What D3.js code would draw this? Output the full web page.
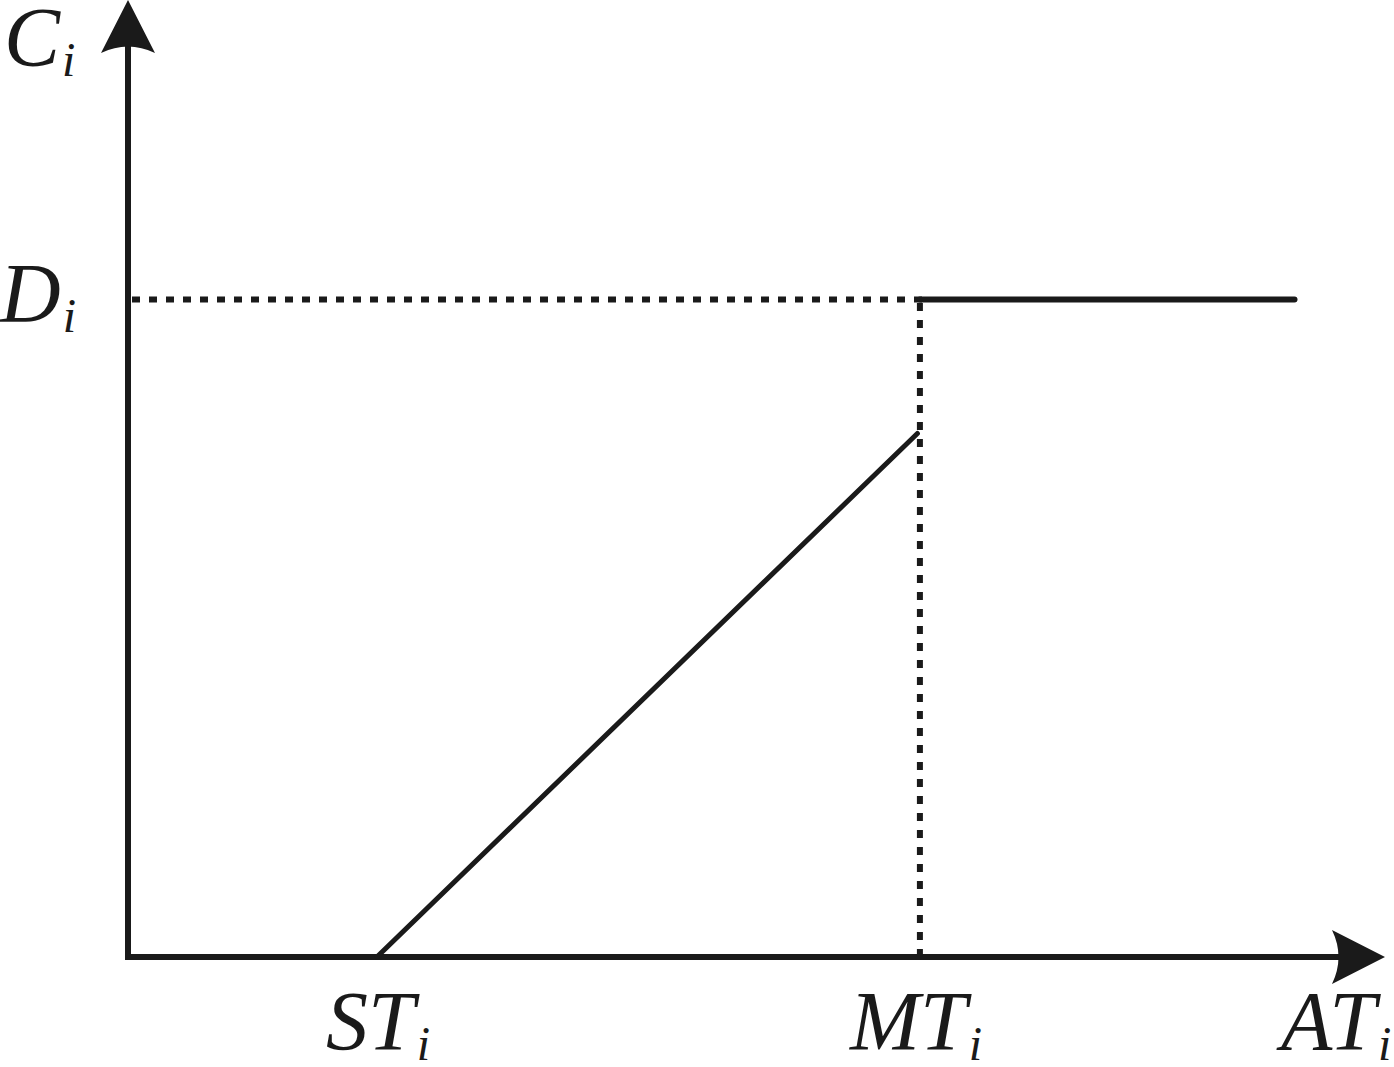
<!DOCTYPE html>
<html><head><meta charset="utf-8">
<script src="https://cdn.jsdelivr.net/npm/d3@7"></script>
<style>html,body{margin:0;padding:0;background:#fff;}svg{display:block;}
.lbl{font-family:"Liberation Serif", serif; font-style:italic;}</style>
</head><body>
<script>
// Data (abstract units)
const xLabels = ["ST", "MT", "AT"];
const yLabels = ["C", "D"];
const rampX = [1.98, 6.28];
const rampY = [0, 5.47];
const plateauX = [6.30, 9.28];
const plateauY = [6.87, 6.87];
const dashedH = [[0, 6.87],[6.30, 6.87]];
const dashedV = [[6.30, 0],[6.30, 6.87]];

const W = 1394, H = 1067;
const x = d3.scaleLinear().domain([0, 10]).range([128, 1385]);
const y = d3.scaleLinear().domain([0, 10]).range([957, 0]);
const ink = "#1a1a1a";

const svg = d3.select("body").append("svg").attr("width", W).attr("height", H);
const line = d3.line().x(d => x(d[0])).y(d => y(d[1]));

// axes
svg.append("line").attr("x1", x(0)).attr("y1", y(0)).attr("x2", x(0)).attr("y2", y(10)+40)
  .attr("stroke", ink).attr("stroke-width", 6);
svg.append("line").attr("x1", x(0)-3).attr("y1", y(0)).attr("x2", x(10)-40).attr("y2", y(0))
  .attr("stroke", ink).attr("stroke-width", 6);

// arrowheads
const ax = x(0), ay = y(10);
svg.append("path").attr("fill", ink)
  .attr("d", `M${ax},${ay} L${ax+27},${ay+53} Q${ax},${ay+40} ${ax-27},${ay+53} Z`);
const bx = x(10), by = y(0);
svg.append("path").attr("fill", ink)
  .attr("d", `M${bx},${by} L${bx-53},${by-27} Q${bx-40},${by} ${bx-53},${by+27} Z`);

// dashed lines
svg.append("path").attr("d", line(dashedH)).attr("fill","none").attr("stroke", ink)
  .attr("stroke-width", 6).attr("stroke-dasharray", "8,9").attr("transform","translate(4,0)");
svg.append("path").attr("d", line(dashedV)).attr("fill","none").attr("stroke", ink)
  .attr("stroke-width", 6).attr("stroke-dasharray", "8,9");

// solid plateau
svg.append("path").attr("d", line(d3.zip(plateauX, plateauY))).attr("fill","none")
  .attr("stroke", ink).attr("stroke-width", 6).attr("stroke-linecap","round");
// ramp
svg.append("path").attr("d", line(d3.zip(rampX, rampY))).attr("fill","none")
  .attr("stroke", ink).attr("stroke-width", 5).attr("stroke-linecap","round");

// labels
function label(tx, ty, main) {
  const t = svg.append("text").attr("class","lbl").attr("x", tx).attr("y", ty)
    .attr("font-size", 84).attr("fill", ink);
  t.append("tspan").text(main);
  t.append("tspan").attr("font-size", 48).attr("dy", 10).attr("dx", 2).text("i");
}
label(4, 66, yLabels[0]);
label(0, 322, yLabels[1]);
label(326, 1050, xLabels[0]);
label(850, 1050, xLabels[1]);
label(1281, 1050, xLabels[2]);
</script>
</body></html>
